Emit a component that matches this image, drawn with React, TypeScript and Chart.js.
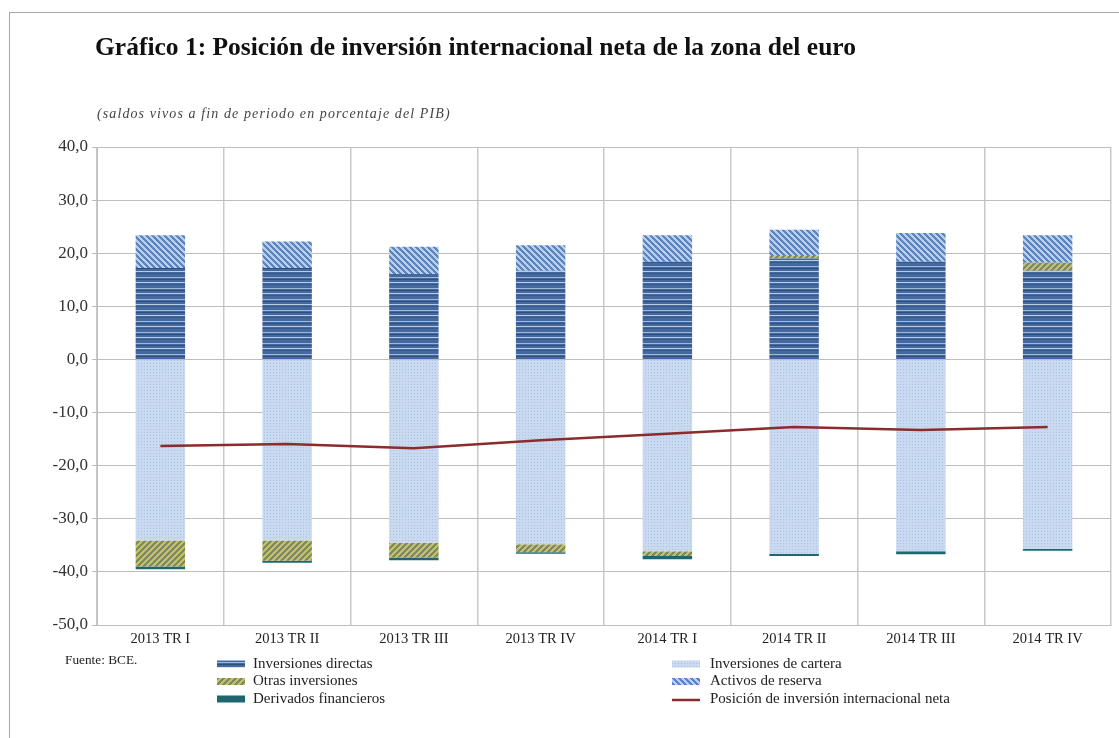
import React, { useEffect, useRef } from "react";
import { Chart, registerables } from "chart.js";

Chart.register(...registerables);

const categories = ["2013 TR I", "2013 TR II", "2013 TR III", "2013 TR IV", "2014 TR I", "2014 TR II", "2014 TR III", "2014 TR IV"];
const directas = [17.2, 17.2, 16.1, 16.7, 18.4, 19.0, 18.4, 16.7];
const cartera = [-34.1, -34.1, -34.5, -34.8, -36.1, -36.6, -36.1, -35.7];
const otras = [-4.9, -3.8, -2.8, -1.5, -0.9, 0.5, 0.0, 1.5];
const reserva = [6.2, 5.0, 5.1, 4.8, 5.0, 4.9, 5.4, 5.2];
const derivados = [-0.5, -0.4, -0.5, -0.3, -0.6, -0.4, -0.6, -0.3];
const neta = [-16.3, -15.9, -16.7, -15.2, -14.0, -12.7, -13.3, -12.7];

const yTicks = [-50, -40, -30, -20, -10, 0, 10, 20, 30, 40];

const SERIF = '"Liberation Serif", "DejaVu Serif", serif';

function makeTile(w: number, h: number, fn: (x: number, y: number) => string): HTMLCanvasElement {
  const c = document.createElement("canvas");
  c.width = w;
  c.height = h;
  const g = c.getContext("2d")!;
  for (let y = 0; y < h; y++) {
    for (let x = 0; x < w; x++) {
      g.fillStyle = fn(x, y);
      g.fillRect(x, y, 1, 1);
    }
  }
  return c;
}

function makePatterns(ctx: CanvasRenderingContext2D) {
  const dirRows = ["#44699f", "#44699f", "#9fb7dc", "#44699f", "#2f4f82", "#44699f", "#44699f", "#b8cbe8", "#44699f", "#365a8e", "#44699f"];
  const directasTile = makeTile(4, dirRows.length, (_x, y) => dirRows[y]);
  const carteraTile = makeTile(3, 3, (x, y) => (x === 0 && y === 0 ? "#aac2e3" : "#c9d9ef"));
  const otrasTile = makeTile(6, 6, (x, y) => ((x + y) % 6 < 3 ? "#7d8a5e" : "#c4c064"));
  const reservaTile = makeTile(6, 6, (x, y) => ((((x - y) % 6) + 6) % 6 < 3 ? "#5a85c1" : "#b9cfeb"));
  return {
    directas: ctx.createPattern(directasTile, "repeat")!,
    cartera: ctx.createPattern(carteraTile, "repeat")!,
    otras: ctx.createPattern(otrasTile, "repeat")!,
    reserva: ctx.createPattern(reservaTile, "repeat")!,
    derivados: "#21666f",
  };
}

const LINE_COLOR = "#8b2b2b";

export default function App() {
  const ref = useRef<HTMLCanvasElement | null>(null);

  useEffect(() => {
    const canvas = ref.current!;
    const ctx = canvas.getContext("2d")!;
    const p = makePatterns(ctx);

    const legendPlugin = {
      id: "customLegend",
      afterDraw(chart: any) {
        const c = chart.ctx as CanvasRenderingContext2D;
        c.save();
        c.font = `15px ${SERIF}`;
        c.fillStyle = "#222";
        c.textBaseline = "middle";
        const rows = [664, 681.5, 699];
        const left = [
          { label: "Inversiones directas", fill: p.directas },
          { label: "Otras inversiones", fill: p.otras },
          { label: "Derivados financieros", fill: p.derivados },
        ];
        const right = [
          { label: "Inversiones de cartera", fill: p.cartera },
          { label: "Activos de reserva", fill: p.reserva },
          { label: "Posición de inversión internacional neta", fill: null },
        ];
        left.forEach((it, i) => {
          c.fillStyle = it.fill as any;
          c.fillRect(217, rows[i] - 3.5, 28, 7);
          c.fillStyle = "#222";
          c.fillText(it.label, 253, rows[i]);
        });
        right.forEach((it, i) => {
          if (it.fill) {
            c.fillStyle = it.fill as any;
            c.fillRect(672, rows[i] - 3.5, 28, 7);
          } else {
            c.strokeStyle = LINE_COLOR;
            c.lineWidth = 2.5;
            c.beginPath();
            c.moveTo(672, rows[i] + 1);
            c.lineTo(700, rows[i] + 1);
            c.stroke();
          }
          c.fillStyle = "#222";
          c.fillText(it.label, 710, rows[i]);
        });
        c.restore();
      },
    };

    const chart = new Chart(ctx, {
      type: "bar",
      data: {
        labels: categories,
        datasets: [
          { label: "Inversiones directas", data: directas, backgroundColor: p.directas as any, stack: "s", barPercentage: 0.39, categoryPercentage: 1 },
          { label: "Inversiones de cartera", data: cartera, backgroundColor: p.cartera as any, stack: "s", barPercentage: 0.39, categoryPercentage: 1 },
          { label: "Otras inversiones", data: otras, backgroundColor: p.otras as any, stack: "s", barPercentage: 0.39, categoryPercentage: 1 },
          { label: "Activos de reserva", data: reserva, backgroundColor: p.reserva as any, stack: "s", barPercentage: 0.39, categoryPercentage: 1 },
          { label: "Derivados financieros", data: derivados, backgroundColor: p.derivados, stack: "s", barPercentage: 0.39, categoryPercentage: 1 },
          {
            type: "line" as any,
            label: "Posición de inversión internacional neta",
            data: neta,
            borderColor: LINE_COLOR,
            backgroundColor: LINE_COLOR,
            borderWidth: 2.5,
            pointRadius: 0,
            tension: 0,
            stack: "net",
            order: -1,
          } as any,
        ],
      },
      options: {
        responsive: false,
        animation: false,
        layout: { padding: { left: 0, right: 8, top: 147, bottom: 91 } },
        plugins: {
          legend: { display: false },
          title: { display: false },
          tooltip: { enabled: false },
        },
        scales: {
          x: {
            stacked: true,
            offset: true,
            grid: { offset: true, color: "#c9c9c9", lineWidth: 1.5, drawTicks: false },
            border: { color: "#bdbdbd" },
            ticks: { color: "#222", font: { family: SERIF, size: 14.5 }, padding: 5, maxRotation: 0, autoSkip: false },
            afterFit: (s: any) => {
              s.height = 22;
            },
          },
          y: {
            stacked: true,
            min: -50,
            max: 40,
            afterBuildTicks: (s: any) => {
              s.ticks = yTicks.map((v) => ({ value: v }));
            },
            grid: { color: "#bdbdbd", lineWidth: 1, tickLength: 5 },
            border: { color: "#bdbdbd" },
            ticks: {
              color: "#333",
              font: { family: SERIF, size: 17 },
              padding: 4,
              callback: (v: any) => Number(v).toFixed(1).replace(".", ","),
            },
            afterFit: (s: any) => {
              s.width = 97;
            },
          },
        },
      },
      plugins: [legendPlugin],
    });
    return () => chart.destroy();
  }, []);

  return (
    <div style={{ position: "absolute", left: 0, top: 0, width: 1119, height: 738, overflow: "hidden", background: "#fff" }}>
      <canvas ref={ref} width={1119} height={738} style={{ position: "absolute", left: 0, top: 0, width: 1119, height: 738 }} />
      <div style={{ position: "absolute", left: 9, top: 12, width: 1110, height: 726, borderTop: "1.5px solid #a6a6a6", borderLeft: "1.5px solid #a6a6a6", boxSizing: "border-box" }} />
      <div style={{ position: "absolute", left: 95, top: 34, fontFamily: SERIF, fontWeight: "bold", fontSize: 25.5, lineHeight: "26px", color: "#111", whiteSpace: "nowrap" }}>
        Gráfico 1: Posición de inversión internacional neta de la zona del euro
      </div>
      <div style={{ position: "absolute", left: 97, top: 107, fontFamily: SERIF, fontStyle: "italic", fontSize: 14, lineHeight: "14px", letterSpacing: "1.1px", color: "#444", whiteSpace: "nowrap" }}>
        (saldos vivos a fin de periodo en porcentaje del PIB)
      </div>
      <div style={{ position: "absolute", left: 65, top: 653, fontFamily: SERIF, fontSize: 13.3, lineHeight: "13px", color: "#222", whiteSpace: "nowrap" }}>
        Fuente: BCE.
      </div>
    </div>
  );
}
